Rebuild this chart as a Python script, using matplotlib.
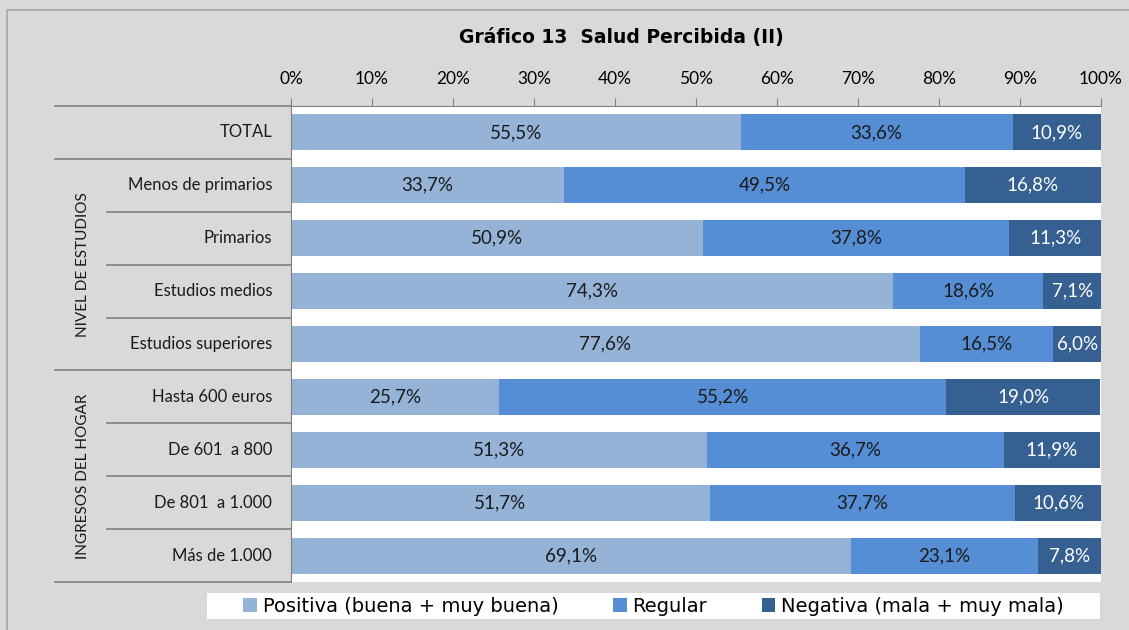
import matplotlib
matplotlib.use('Agg')
import matplotlib.pyplot as plt
from matplotlib.patches import Rectangle
from matplotlib.lines import Line2D
import numpy as np

categories = ["TOTAL", "Menos de primarios", "Primarios", "Estudios medios",
              "Estudios superiores", "Hasta 600 euros", "De 601  a 800",
              "De 801  a 1.000", "Más de 1.000"]
positiva = [55.5, 33.7, 50.9, 74.3, 77.6, 25.7, 51.3, 51.7, 69.1]
regular = [33.6, 49.5, 37.8, 18.6, 16.5, 55.2, 36.7, 37.7, 23.1]
negativa = [10.9, 16.8, 11.3, 7.1, 6.0, 19.0, 11.9, 10.6, 7.8]
series_names = ["Positiva (buena + muy buena)", "Regular", "Negativa (mala + muy mala)"]
groups = [("NIVEL DE ESTUDIOS", 1, 4), ("INGRESOS DEL HOGAR", 5, 8)]
colors = ["#95b3d7", "#558ed5", "#376092"]
text_colors = ["#1a1a1a", "#1a1a1a", "white"]

plt.rcParams['font.family'] = ['Lato', 'DejaVu Sans']

W, H = 1129, 630
fig = plt.figure(figsize=(W / 100, H / 100), dpi=100)
fig.patch.set_facecolor("#d9d9d9")

# outer chart border
fig.add_artist(Rectangle((7 / W, -0.1), 1.2, 1 - 10 / H + 0.1, transform=fig.transFigure,
                         fill=False, edgecolor="#a6a6a6", lw=1.2))

left, right, top, bottom = 291, 1101, 106, 582
ax = fig.add_axes([left / W, 1 - bottom / H, (right - left) / W, (bottom - top) / H])
ax.set_facecolor("white")

y = np.arange(len(categories))
lefts = np.zeros(len(categories))
for vals, col, tcol, name in zip([positiva, regular, negativa], colors, text_colors, series_names):
    vals = np.array(vals)
    ax.barh(y, vals, left=lefts, height=0.68, color=col, label=name, edgecolor="none")
    for yi, v, l in zip(y, vals, lefts):
        ax.text(l + v / 2, yi, f"{v:.1f}%".replace(".", ","), ha="center", va="center",
                fontsize=13.5, color=tcol)
    lefts = lefts + vals

ax.set_xlim(0, 100)
ax.set_ylim(len(categories) - 0.5, -0.5)
ax.xaxis.tick_top()
ax.set_xticks(np.arange(0, 101, 10))
ax.set_xticklabels([f"{t}%" for t in range(0, 101, 10)], fontsize=12.5)
ax.tick_params(axis="x", length=6, color="#808080", pad=8)
ax.set_yticks([])
for s in ["right", "bottom"]:
    ax.spines[s].set_visible(False)
ax.spines["top"].set_color("#808080")
ax.spines["left"].set_color("#808080")

# category labels and separators in the left area
def axx(px):
    return (px - left) / (right - left)

trans = ax.get_yaxis_transform()
for yi, cat in zip(y, categories):
    ax.text(axx(272), yi, cat, transform=trans, ha="right", va="center", fontsize=12, color="#1a1a1a")

group_edges = {-0.5, 0.5, 4.5, 8.5}
for b in np.arange(-0.5, len(categories), 1.0):
    x0 = 55 if b in group_edges else 107
    ax.add_line(Line2D([axx(x0), 0], [b, b], transform=trans, color="#808080", lw=1.2, clip_on=False))

for name, a, b in groups:
    ax.text(axx(83), (a + b) / 2, name, transform=trans, rotation=90, ha="center", va="center",
            fontsize=11, color="#1a1a1a")

fig.text(621 / W, 1 - 37 / H, "Gráfico 13  Salud Percibida (II)", ha="center", va="center",
         fontsize=13.5, fontweight="bold", family=["DejaVu Sans"])

# legend box
leg_ax = fig.add_axes([207 / W, 1 - 619 / H, (1100 - 207) / W, 26 / H])
leg_ax.set_facecolor("white")
leg_ax.set_xticks([]); leg_ax.set_yticks([])
for s in leg_ax.spines.values():
    s.set_visible(False)
handles, labels = ax.get_legend_handles_labels()
leg_ax.legend(handles, labels, loc="center", ncol=3, frameon=False,
              handlelength=0.7, handleheight=0.7, columnspacing=2.8, handletextpad=0.3,
              borderaxespad=0, prop={'family': ['DejaVu Sans'], 'size': 14})

fig.savefig("out.png", dpi=100, facecolor=fig.get_facecolor())
